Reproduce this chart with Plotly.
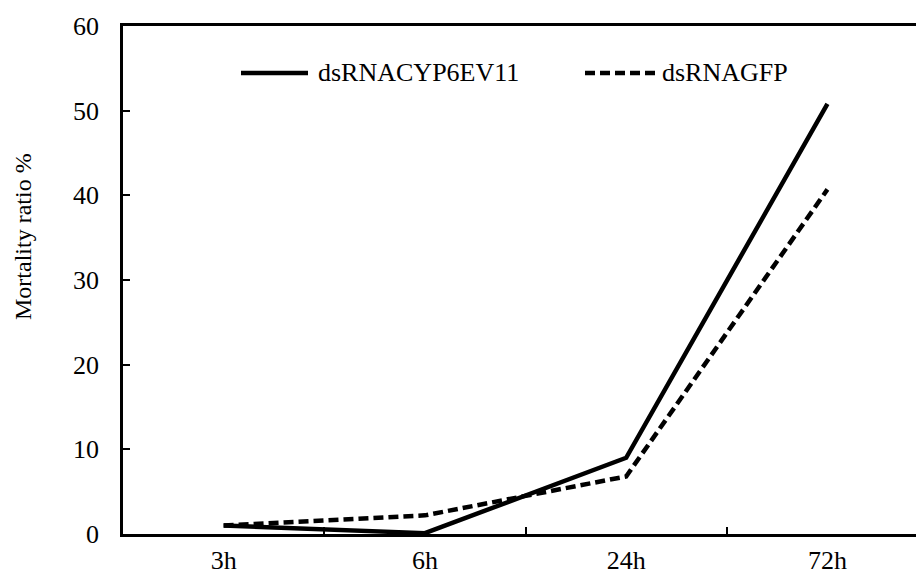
import plotly.graph_objects as go

categories = ["3h", "6h", "24h", "72h"]
series_names = ["dsRNACYP6EV11", "dsRNAGFP"]
cyp_values = [1.0, 0.1, 9.0, 50.8]
gfp_values = [1.0, 2.2, 6.8, 40.7]
y_ticks = [0, 10, 20, 30, 40, 50, 60]
y_title = "Mortality ratio %"

FONT = "Liberation Serif, Times New Roman, serif"
W, H = 916, 576
L, R, T, B = 123, 0, 26, 42
pw, ph = W - L - R, H - T - B

fig = go.Figure()
fig.add_trace(go.Scatter(x=categories, y=cyp_values, mode="lines",
                         line=dict(color="black", width=4.5), name=series_names[0],
                         showlegend=False))
fig.add_trace(go.Scatter(x=categories, y=gfp_values, mode="lines",
                         line=dict(color="black", width=4.5, dash="10px,5px"),
                         name=series_names[1], showlegend=False))

# manual legend (paper coordinates)
def px2x(p):
    return (p - L) / pw

def py2y(p):
    return (H - B - p) / ph

leg_y = py2y(73)
legend_items = [
    (241, 308, 316, "solid"),
    (585, 655, 660, "10px,5px"),
]
for name, (x0, x1, xt, dash) in zip(series_names, legend_items):
    fig.add_shape(type="line", xref="paper", yref="paper",
                  x0=px2x(x0), x1=px2x(x1), y0=leg_y, y1=leg_y,
                  line=dict(color="black", width=4.5, dash=dash))
    fig.add_annotation(xref="paper", yref="paper", x=px2x(xt), y=leg_y,
                       text=name, showarrow=False, xanchor="left", yanchor="middle",
                       font=dict(family=FONT, size=26, color="black"))

# y-axis title (placed as in the reference, above the axis centre)
fig.add_annotation(xref="paper", yref="paper", x=px2x(23), y=py2y(237),
                   text=y_title, textangle=-90, showarrow=False,
                   xanchor="center", yanchor="middle",
                   font=dict(family=FONT, size=24, color="black"))

fig.update_layout(
    width=W, height=H,
    margin=dict(l=L, r=R, t=T, b=B, pad=0),
    plot_bgcolor="white", paper_bgcolor="white",
    font=dict(family=FONT, size=26, color="black"),
    xaxis=dict(
        type="category", range=[-0.5, 3.44], tickson="boundaries",
        ticks="inside", ticklen=7, tickwidth=2, tickcolor="black",
        showline=True, linecolor="black", linewidth=2.5, mirror=True,
        showgrid=False, zeroline=False, ticklabelstandoff=1,
        tickfont=dict(family=FONT, size=26),
    ),
    yaxis=dict(
        range=[0, 60], tickvals=y_ticks, ticks="inside", ticklen=7, tickwidth=2,
        tickcolor="black", showline=True, linecolor="black", linewidth=2.5,
        showgrid=False, zeroline=False, ticklabelstandoff=16,
        tickfont=dict(family=FONT, size=26),
    ),
)

fig.write_html("out.html", config={"displayModeBar": False},
               post_script="document.body.style.margin='0';")
